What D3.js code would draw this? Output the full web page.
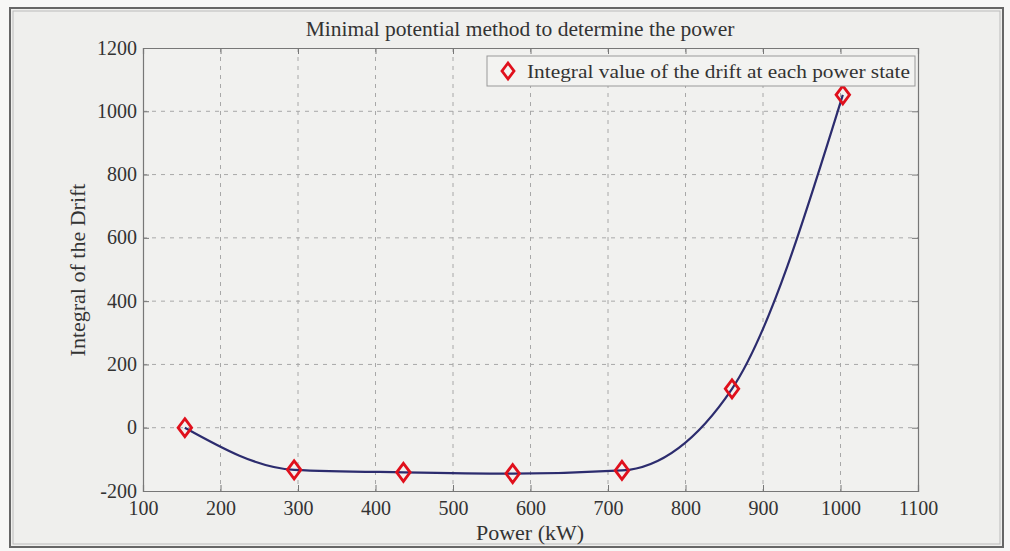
<!DOCTYPE html>
<html>
<head>
<meta charset="utf-8">
<script src="https://cdn.jsdelivr.net/npm/d3@7"></script>
<style>
  html, body { margin: 0; padding: 0; background: #f7f7f6; }
  svg { display: block; }
  text { font-family: "Liberation Serif", "DejaVu Serif", serif; fill: #333; }
</style>
</head>
<body>
<svg id="chart" width="1010" height="551"></svg>
<script>
// Power states (kW) and the integral of the drift at each of them
const powerKW = [154, 295, 436, 577, 718, 860, 1003];
const driftIntegral = [0, -133, -141, -145, -135, 123, 1052];
const xTicks = [100, 200, 300, 400, 500, 600, 700, 800, 900, 1000, 1100];
const yTicks = [-200, 0, 200, 400, 600, 800, 1000, 1200];

const titleText = "Minimal potential method to determine the power";
const xLabel = "Power (kW)";
const yLabel = "Integral of the Drift";
const legendText = "Integral value of the drift at each power state";

const svg = d3.select("#chart");
const W = 1010, H = 551;
const plot = { left: 143, top: 48, right: 918, bottom: 491 };

// figure frame
svg.append("rect").attr("x", 0).attr("y", 0).attr("width", W).attr("height", H).attr("fill", "#f7f7f6");
svg.append("rect").attr("x", 10).attr("y", 8).attr("width", 993).attr("height", 539)
  .attr("fill", "#efefed").attr("stroke", "#666").attr("stroke-width", 2);
svg.append("rect").attr("x", 13).attr("y", 11).attr("width", 987).attr("height", 533)
  .attr("fill", "none").attr("stroke", "#bbb").attr("stroke-width", 1);

const x = d3.scaleLinear().domain([100, 1100]).range([plot.left, plot.right]);
const y = d3.scaleLinear().domain([-200, 1200]).range([plot.bottom, plot.top]);

// plot background
svg.append("rect").attr("x", plot.left).attr("y", plot.top)
  .attr("width", plot.right - plot.left).attr("height", plot.bottom - plot.top)
  .attr("fill", "#f1f1ef");

// dashed grid
const grid = svg.append("g").attr("stroke", "#a8a8a8").attr("stroke-width", 1)
  .attr("stroke-dasharray", "4,5");
grid.selectAll("line.gx").data(xTicks.slice(1, -1)).join("line")
  .attr("x1", d => x(d)).attr("x2", d => x(d))
  .attr("y1", plot.top).attr("y2", plot.bottom);
grid.selectAll("line.gy").data(yTicks.slice(1, -1)).join("line")
  .attr("x1", plot.left).attr("x2", plot.right)
  .attr("y1", d => y(d)).attr("y2", d => y(d));

// axes (ticks pointing inward, box on)
const axisColor = "#777";
const fmt = d => String(d).replace("\u2212", "-");
const xAxis = svg.append("g").attr("transform", `translate(0,${plot.bottom})`)
  .call(d3.axisBottom(x).tickValues(xTicks).tickSize(-6).tickPadding(10).tickFormat(fmt));
const xAxisTop = svg.append("g").attr("transform", `translate(0,${plot.top})`)
  .call(d3.axisTop(x).tickValues(xTicks).tickSize(-6).tickFormat(""));
const yAxis = svg.append("g").attr("transform", `translate(${plot.left},0)`)
  .call(d3.axisLeft(y).tickValues(yTicks).tickSize(-6).tickPadding(6).tickFormat(fmt));
const yAxisRight = svg.append("g").attr("transform", `translate(${plot.right},0)`)
  .call(d3.axisRight(y).tickValues(yTicks).tickSize(-6).tickFormat(""));
[xAxis, xAxisTop, yAxis, yAxisRight].forEach(g => {
  g.select(".domain").attr("stroke", axisColor).attr("stroke-width", 1.2);
  g.selectAll(".tick line").attr("stroke", axisColor);
  g.selectAll(".tick text").attr("font-family", "Liberation Serif, serif")
    .attr("font-size", 20).attr("fill", "#444");
});
yAxis.selectAll(".tick text").attr("dy", "0.3em");

// title and axis labels
svg.append("text").attr("x", 520).attr("y", 36)
  .attr("text-anchor", "middle").attr("font-size", 21.5).attr("fill", "#333").text(titleText);
svg.append("text").attr("x", 530).attr("y", 540)
  .attr("text-anchor", "middle").attr("font-size", 22).attr("fill", "#333").text(xLabel);
svg.append("text")
  .attr("transform", `translate(85,270) rotate(-90)`)
  .attr("text-anchor", "middle").attr("font-size", 22).attr("fill", "#333").text(yLabel);

// smooth curve through the points
const pts = powerKW.map((p, i) => [p, driftIntegral[i]]);
const line = d3.line().x(d => x(d[0])).y(d => y(d[1])).curve(d3.curveMonotoneX);
svg.append("path").datum(pts).attr("d", line)
  .attr("fill", "none").attr("stroke", "#2c2c6e").attr("stroke-width", 2.2);

// diamond markers
const diamond = (cx, cy, r) => `M${cx},${cy - r}L${cx + r * 0.75},${cy}L${cx},${cy + r}L${cx - r * 0.75},${cy}Z`;
svg.append("g").selectAll("path").data(pts).join("path")
  .attr("d", d => diamond(x(d[0]), y(d[1]), 9))
  .attr("fill", "none").attr("stroke", "#e0101c").attr("stroke-width", 2.8);

// legend
const lg = svg.append("g");
lg.append("rect").attr("x", 487).attr("y", 56).attr("width", 428).attr("height", 30)
  .attr("fill", "#f3f3f1").attr("stroke", "#999").attr("stroke-width", 1);
lg.append("path").attr("d", diamond(508, 71, 8))
  .attr("fill", "none").attr("stroke", "#e0101c").attr("stroke-width", 2.8);
lg.append("text").attr("x", 527).attr("y", 78).attr("font-size", 19.5).attr("fill", "#333")
  .attr("textLength", 383).attr("lengthAdjust", "spacingAndGlyphs")
  .text(legendText);
</script>
</body>
</html>
